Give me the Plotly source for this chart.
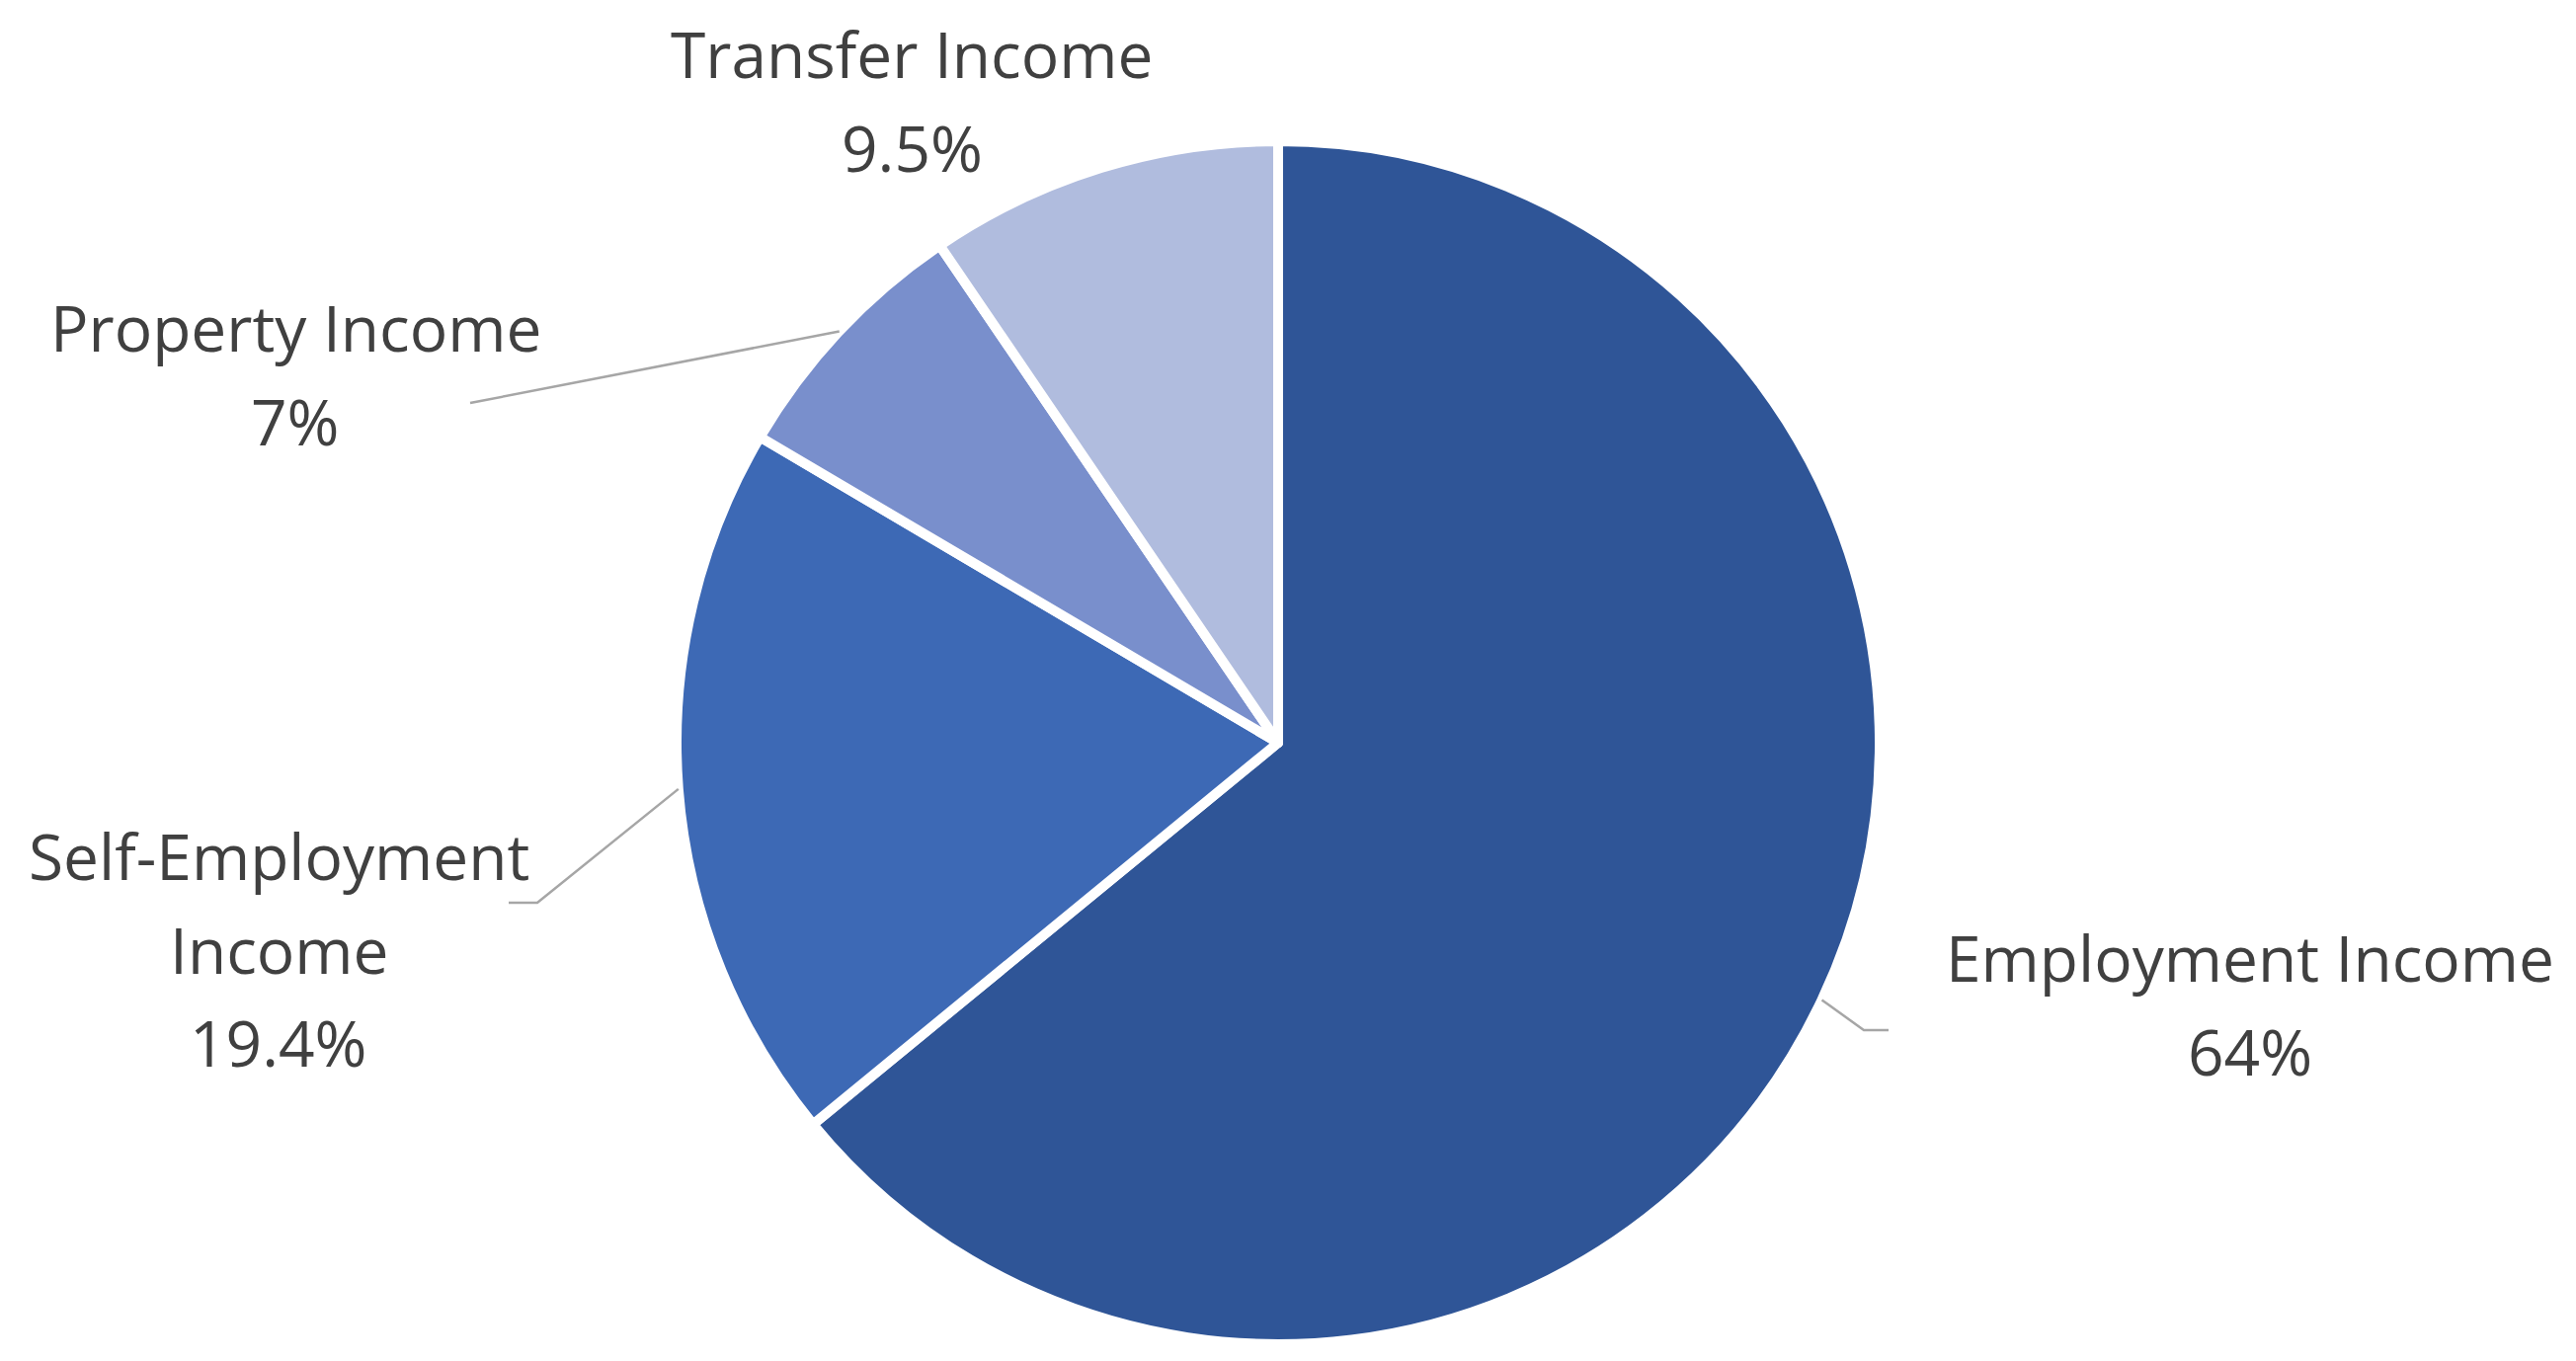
import math
import plotly.graph_objects as go

# data
labels = ["Employment Income", "Self-Employment Income", "Property Income", "Transfer Income"]
label_lines = [["Employment Income"], ["Self-Employment", "Income"], ["Property Income"], ["Transfer Income"]]
values = [64, 19.4, 7, 9.5]
value_text = ["64%", "19.4%", "7%", "9.5%"]
colors = ["#2F5597", "#3D69B5", "#798FCC", "#B0BCDE"]

W, H = 2608, 1378
cx, cy, R = 1286, 744, 609   # pie centre / radius in px
LINE_H = 94

# label centres and leader-line bends (px, from top-left)
label_pos = [(2270, 1009), (274, 953), (291, 371), (915, 94)]
leader_bends = [[(1879, 1035), (1904, 1035)],
                [(536, 906), (507, 906)],
                [(468, 400)],
                None]

dom_x = [(cx - R) / W, (cx + R) / W]
dom_y = [1 - (cy + R) / H, 1 - (cy - R) / H]

fig = go.Figure(go.Pie(
    labels=labels, values=values, sort=False, direction="clockwise", rotation=0,
    marker=dict(colors=colors, line=dict(color="white", width=10)),
    textinfo="none", hoverinfo="label+percent", showlegend=False,
    domain=dict(x=dom_x, y=dom_y),
))


def px2paper(x, y):
    return x / W, 1 - y / H


total = sum(values)
cum = 0
shapes = []
annotations = []
for i, v in enumerate(values):
    mid = (cum + v / 2) / total * 2 * math.pi
    cum += v
    lines = label_lines[i] + [value_text[i]]
    n = len(lines)
    for k, t in enumerate(lines):
        lx, ly = px2paper(label_pos[i][0], label_pos[i][1] + (k - (n - 1) / 2) * LINE_H)
        annotations.append(dict(
            x=lx, y=ly, xref="paper", yref="paper", showarrow=False, text=t,
            font=dict(family="Open Sans, Noto Sans, sans-serif", size=64, color="#404040"),
            xanchor="center", yanchor="middle",
        ))
    if leader_bends[i]:
        pts = [(cx + R * math.sin(mid), cy - R * math.cos(mid))] + leader_bends[i]
        path = ""
        for j, (px, py) in enumerate(pts):
            x, y = px2paper(px, py)
            path += ("M" if j == 0 else "L") + f" {x} {y} "
        shapes.append(dict(type="path", path=path, xref="paper", yref="paper",
                           line=dict(color="#A6A6A6", width=2.5)))

fig.update_layout(
    width=W, height=H,
    margin=dict(l=0, r=0, t=0, b=0),
    paper_bgcolor="white", plot_bgcolor="white",
    shapes=shapes, annotations=annotations,
)

fig.write_html("out.html")
